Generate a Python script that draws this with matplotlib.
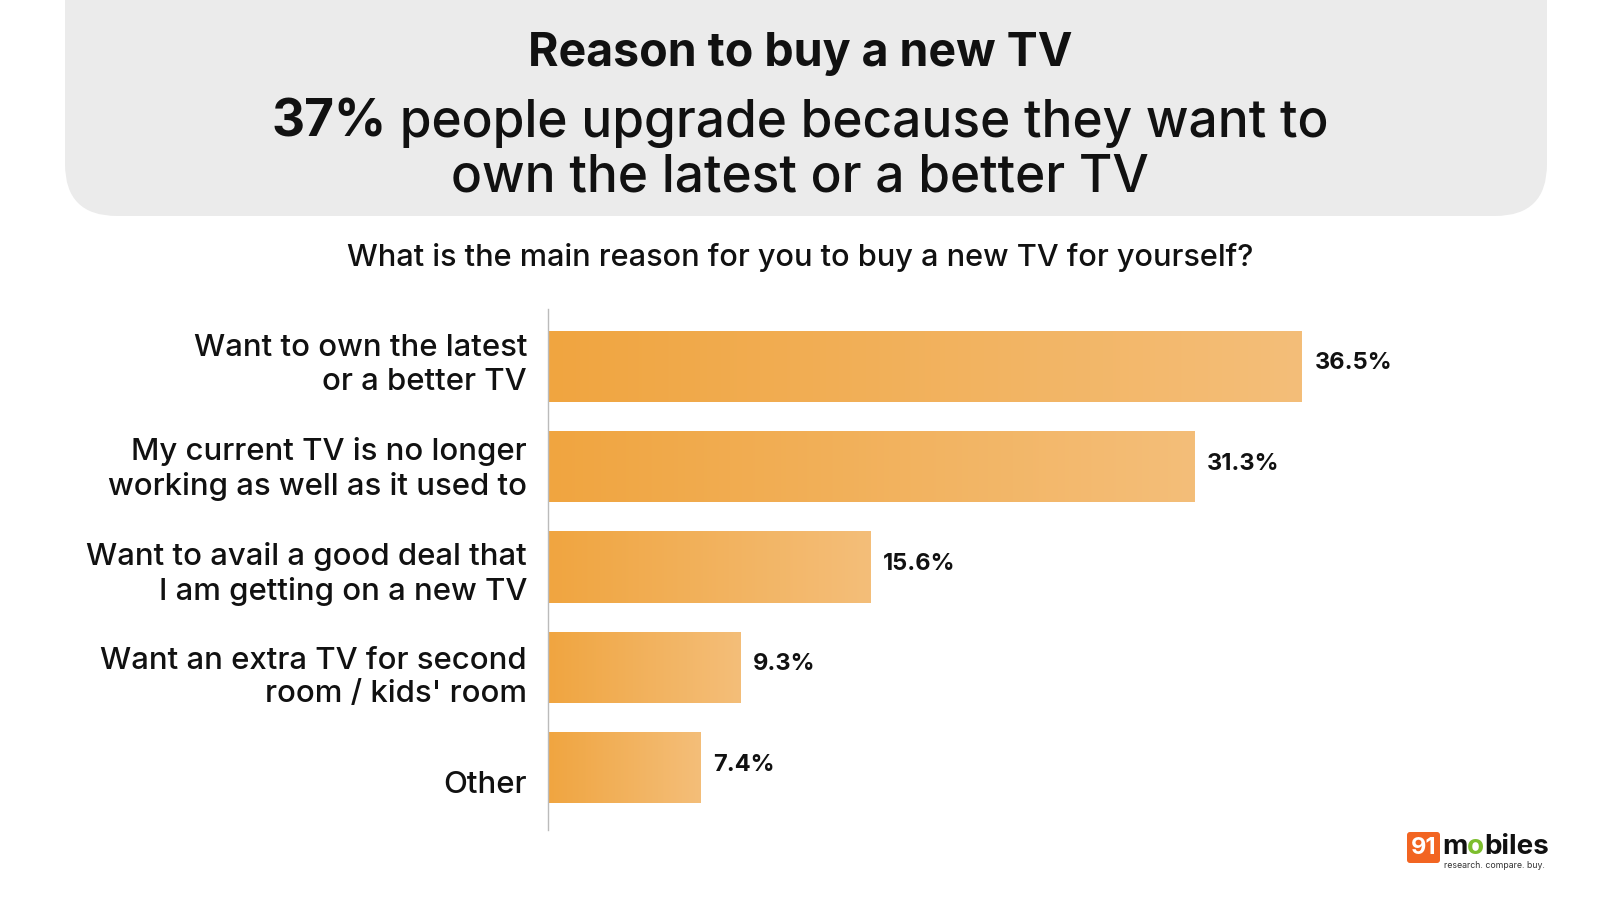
import matplotlib
matplotlib.use("Agg")
import matplotlib.pyplot as plt
import numpy as np
from matplotlib.patches import FancyBboxPatch
from matplotlib.colors import LinearSegmentedColormap
from matplotlib.transforms import blended_transform_factory, offset_copy

categories = [
    "Want to own the latest\nor a better TV",
    "My current TV is no longer\nworking as well as it used to",
    "Want to avail a good deal that\nI am getting on a new TV",
    "Want an extra TV for second\nroom / kids' room",
    "Other",
]
values = [36.5, 31.3, 15.6, 9.3, 7.4]
value_labels = ["36.5%", "31.3%", "15.6%", "9.3%", "7.4%"]

title = "Reason to buy a new TV"
subtitle_bold = "37%"
subtitle_rest = " people upgrade because they want to"
subtitle_line2 = "own the latest or a better TV"
question = "What is the main reason for you to buy a new TV for yourself?"

FONT = "Inter"
W, H = 1600, 900
fig = plt.figure(figsize=(16, 9), dpi=100)
fig.patch.set_facecolor("white")
renderer = fig.canvas.get_renderer()

bg = fig.add_axes([0, 0, 1, 1])
bg.set_xlim(0, W)
bg.set_ylim(H, 0)
bg.axis("off")


def width_px(t):
    return t.get_window_extent(renderer=renderer).width


# Header box
box = FancyBboxPatch((65, -80), 1482, 296, boxstyle="round,pad=0,rounding_size=52",
                     facecolor="#EBEBEB", edgecolor="none")
bg.add_patch(box)
bg.text(800, 54, title, ha="center", va="center", fontsize=33.5, fontweight="bold",
        family=FONT, color="#111111")

sub_fs = 37
t1 = bg.text(0, 123, subtitle_bold, ha="left", va="center", fontsize=sub_fs,
             fontweight="bold", family=FONT, color="#111111")
t2 = bg.text(0, 123, subtitle_rest, ha="left", va="center", fontsize=sub_fs,
             fontweight="medium", family=FONT, color="#111111")
w1, w2 = width_px(t1), width_px(t2)
x0 = 800 - (w1 + w2) / 2
t1.set_x(x0)
t2.set_x(x0 + w1)
bg.text(800, 178, subtitle_line2, ha="center", va="center", fontsize=sub_fs,
        fontweight="medium", family=FONT, color="#111111")

bg.text(800, 257, question, ha="center", va="center", fontsize=22.1,
        fontweight="medium", family=FONT, color="#111111")

# Logo
logo = FancyBboxPatch((1407, 832), 33, 31, boxstyle="round,pad=0,rounding_size=3",
                      facecolor="#F26522", edgecolor="none")
bg.add_patch(logo)
bg.text(1423.5, 848, "91", ha="center", va="center", fontsize=17, fontweight="bold",
        color="white", family=FONT)
lx = 1442
for part, col in [("m", "#111111"), ("o", "#7DBE2E"), ("biles", "#111111")]:
    tt = bg.text(lx, 847, part, ha="left", va="center", fontsize=20, fontweight="bold",
                 color=col, family=FONT)
    lx += width_px(tt)
bg.text(1444, 866, "research. compare. buy.", ha="left", va="center", fontsize=6.3,
        color="#333333", family=FONT)

# Bar chart axes
ax_left, ax_right = 548, 1548
ax_top, ax_bot = 309, 830
ax = fig.add_axes([ax_left / W, 1 - ax_bot / H, (ax_right - ax_left) / W, (ax_bot - ax_top) / H])
ax.set_facecolor("none")
xmax = 36.5 * 1000 / 754
ypos = np.arange(len(categories))
bh = 0.71
bars = ax.barh(ypos, values, height=bh, color="#F2B05A", edgecolor="none")

cmap = LinearSegmentedColormap.from_list("g", ["#F0A540", "#F4BE79"])
grad = np.linspace(0, 1, 256).reshape(1, -1)
for b, y, v, lab in zip(bars, ypos, values, value_labels):
    im = ax.imshow(grad, cmap=cmap, aspect="auto",
                   extent=[0, v, y + bh / 2, y - bh / 2], zorder=2)
    im.set_clip_path(b)
    ax.text(v + 0.6, y - 0.03, lab, ha="left", va="center",
            fontsize=17, fontweight="bold", family=FONT, color="#111111", zorder=3)
ax.set_xlim(0, xmax)
ax.set_ylim(4.62, -0.57)

for s in ["top", "right", "bottom"]:
    ax.spines[s].set_visible(False)
ax.spines["left"].set_color("#BBBBBB")
ax.spines["left"].set_linewidth(1)
ax.set_xticks([])
ax.set_yticks([])

# Category labels (right-aligned left of the axis line)
trans = offset_copy(blended_transform_factory(ax.transAxes, ax.transData),
                    fig=fig, x=-21, y=0, units="dots")
label_shift = [-0.01, 0.02, 0.07, 0.10, 0.17]
for y, cat, dy in zip(ypos, categories, label_shift):
    ax.text(0, y + dy, cat, transform=trans, ha="right", va="center",
            fontsize=22.4, family=FONT, fontweight="medium", color="#111111",
            linespacing=1.26, multialignment="right")

fig.savefig("out.png", dpi=100, facecolor="white")
